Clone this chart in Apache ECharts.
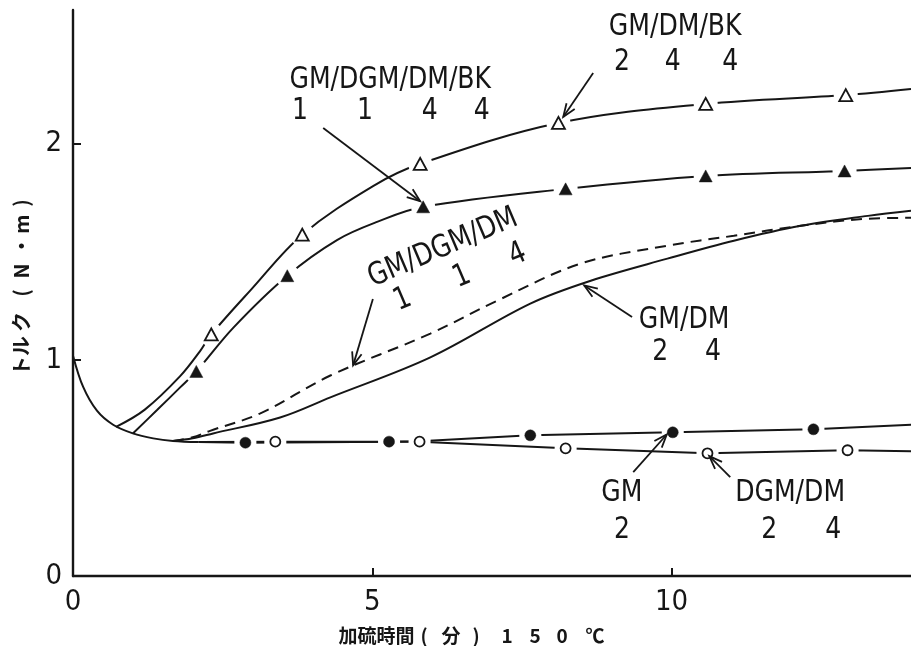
<!DOCTYPE html>
<html>
<head>
<meta charset="utf-8">
<script src="https://cdn.jsdelivr.net/npm/echarts@6/dist/echarts.min.js"></script>
<style>
  html, body { margin: 0; padding: 0; background: #fff; }
  #chart { width: 911px; height: 646px; }
</style>
</head>
<body>
<div id="chart"></div>
<script>
// Cure time (min, 150 °C) against torque (N·m)
const xTickLabels = [0, 5, 10];
const yTickLabels = [0, 1, 2];

// initial drop shared by every compound
const decay = [[0, 1.02], [0.17, 0.875], [0.4, 0.765], [0.67, 0.70], [1.0, 0.66], [1.34, 0.637], [1.67, 0.625], [2.1, 0.62]];

// GM/DM/BK 2/4/4 — open triangles
const bkOpenCurve = [[0.72, 0.69], [1.2, 0.77], [1.79, 0.925], [2.12, 1.04], [2.31, 1.118], [2.96, 1.321], [3.83, 1.58], [5.02, 1.806], [5.80, 1.908], [8.11, 2.097], [10.57, 2.185], [12.91, 2.226], [14, 2.254]];
const bkOpenMarks = [[2.31, 1.118], [3.83, 1.58], [5.80, 1.908], [8.11, 2.097], [10.57, 2.185], [12.91, 2.226]];

// GM/DGM/DM/BK 1/1/4/4 — filled triangles
const bkFilledCurve = [[1.0, 0.66], [1.40, 0.767], [1.79, 0.873], [2.06, 0.947], [2.68, 1.15], [3.58, 1.39], [4.41, 1.555], [5.08, 1.639], [5.85, 1.709], [8.23, 1.792], [10.57, 1.852], [12.89, 1.875], [14, 1.889]];
const bkFilledMarks = [[2.06, 0.947], [3.58, 1.39], [5.85, 1.709], [8.23, 1.792], [10.57, 1.852], [12.89, 1.875]];

// GM/DGM/DM 1/1/4 — dashed
const dgmDashed = [[1.67, 0.625], [2.0, 0.642], [2.29, 0.672], [3.13, 0.753], [4.30, 0.928], [5.97, 1.122], [7.09, 1.275], [8.48, 1.446], [9.93, 1.529], [11.04, 1.575], [12.16, 1.621], [13.28, 1.654], [14, 1.658]];

// GM/DM 2/4 — solid
const gmDmSolid = [[1.67, 0.625], [2.0, 0.638], [2.34, 0.66], [3.46, 0.734], [4.30, 0.827], [5.97, 1.012], [7.64, 1.261], [8.65, 1.367], [9.93, 1.469], [11.04, 1.552], [12.16, 1.621], [13.28, 1.667], [14, 1.691]];

// GM 2 — filled circles
const gmCurve = [[2.1, 0.62], [2.88, 0.617], [5.28, 0.622], [5.79, 0.624], [7.64, 0.651], [10.02, 0.665], [12.37, 0.679], [14, 0.70]];
const gmMarks = [[2.88, 0.617], [5.28, 0.622], [7.64, 0.651], [10.02, 0.665], [12.37, 0.679]];

// DGM/DM 2/4 — open circles
const dgmCurve = [[2.1, 0.62], [3.38, 0.622], [5.79, 0.622], [8.23, 0.591], [10.60, 0.568], [12.94, 0.582], [14, 0.577]];
const dgmMarks = [[3.38, 0.622], [5.79, 0.622], [8.23, 0.591], [10.60, 0.568], [12.94, 0.582]];

const INK = '#161616';
const LATIN = '"DejaVu Sans Condensed", "DejaVu Sans", sans-serif';
const CJK = '"Noto Sans CJK JP", sans-serif';

const chart = echarts.init(document.getElementById('chart'), null, { renderer: 'canvas' });

function curve(name, data, smooth, dashed) {
  return {
    name, type: 'line', data, z: 2, silent: true,
    smooth, showSymbol: false, symbol: 'none',
    lineStyle: { color: INK, width: 2, type: dashed ? [11, 7] : 'solid' }
  };
}

function marks(name, data, symbol, size, hollow) {
  return {
    name, type: 'scatter', data, z: 4, silent: true,
    symbol, symbolSize: size,
    itemStyle: hollow
      ? { color: '#fff', borderColor: INK, borderWidth: 1.8, opacity: 1 }
      : { color: INK, borderColor: INK, borderWidth: 0.5, opacity: 1 }
  };
}

// white breaks in the lines around each marker, turned along the line
function breaks(name, markData, len) {
  return {
    name, type: 'scatter', z: 3, silent: true, symbol: 'rect',
    symbolSize: [len, 7], itemStyle: { color: '#fff', opacity: 1 },
    data: markData.map(p => ({ value: p, symbolRotate: 0 }))
  };
}

const markerSets = [
  { curve: bkOpenCurve, marks: bkOpenMarks, symbol: 'triangle', size: [13, 12], hollow: true, gap: 24 },
  { curve: bkFilledCurve, marks: bkFilledMarks, symbol: 'triangle', size: [13, 12], hollow: false, gap: 24 },
  { curve: gmCurve, marks: gmMarks, symbol: 'circle', size: 11, hollow: false, gap: 22 },
  { curve: dgmCurve, marks: dgmMarks, symbol: 'circle', size: 10, hollow: true, gap: 22 }
];

const series = [
  curve('decay', decay, 0.35),
  curve('GM/DM/BK', bkOpenCurve, 0.35),
  curve('GM/DGM/DM/BK', bkFilledCurve, 0.35),
  curve('GM/DGM/DM', dgmDashed, 0.35, true),
  curve('GM/DM', gmDmSolid, 0.35),
  curve('GM', gmCurve, 0),
  curve('DGM/DM', dgmCurve, 0)
];
markerSets.forEach((m, i) => series.push(breaks('gap' + i, m.marks, m.gap)));
markerSets.forEach((m, i) => series.push(marks('mark' + i, m.marks, m.symbol, m.size, m.hollow)));

chart.setOption({
  animation: false,
  backgroundColor: '#fff',
  grid: { left: 73, right: 0, top: 10, bottom: 70 },
  xAxis: {
    type: 'value', min: 0, max: 14, interval: 5,
    axisLine: { lineStyle: { color: INK, width: 2.4 } },
    axisTick: { inside: true, length: 8, lineStyle: { color: INK, width: 2 }, customValues: [5, 10] },
    axisLabel: { customValues: xTickLabels, color: INK, fontSize: 29, fontFamily: LATIN, margin: 12 },
    splitLine: { show: false }
  },
  yAxis: {
    type: 'value', min: 0, max: 2.62, interval: 1,
    axisLine: { show: true, lineStyle: { color: INK, width: 2.4 } },
    axisTick: { show: true, inside: true, length: 8, lineStyle: { color: INK, width: 2 }, customValues: [1, 2] },
    axisLabel: { customValues: yTickLabels, color: INK, fontSize: 29, fontFamily: LATIN, margin: 11 },
    splitLine: { show: false }
  },
  series
});

// rotate the line breaks to follow the local slope
const toPx = p => chart.convertToPixel({ gridIndex: 0 }, p);
markerSets.forEach((m, i) => {
  series[7 + i].data = m.marks.map(p => {
    const k = m.curve.findIndex(q => q[0] === p[0]);
    const a = toPx(m.curve[Math.max(0, k - 1)]);
    const b = toPx(m.curve[Math.min(m.curve.length - 1, k + 1)]);
    const deg = Math.atan2(a[1] - b[1], b[0] - a[0]) * 180 / Math.PI;
    return { value: p, symbolRotate: deg };
  });
});

// callout texts and arrows, placed in data units
const callouts = [
  { text: 'GM/DM/BK', at: [10.06, 2.541] },
  { text: '2', at: [9.17, 2.379] }, { text: '4', at: [10.02, 2.379] }, { text: '4', at: [10.98, 2.379] },
  { text: 'GM/DGM/DM/BK', at: [5.30, 2.296] },
  { text: '1', at: [3.79, 2.152] }, { text: '1', at: [4.88, 2.152] }, { text: '4', at: [5.96, 2.152] }, { text: '4', at: [6.83, 2.152] },
  { text: 'GM/DGM/DM', at: [6.18, 1.518], rot: 23 },
  { text: '1', at: [5.51, 1.278], rot: 23 }, { text: '1', at: [6.50, 1.384], rot: 23 }, { text: '4', at: [7.43, 1.486], rot: 23 },
  { text: 'GM/DM', at: [10.21, 1.185] },
  { text: '2', at: [9.81, 1.037] }, { text: '4', at: [10.69, 1.037] },
  { text: 'GM', at: [9.17, 0.384] }, { text: '2', at: [9.17, 0.213] },
  { text: 'DGM/DM', at: [11.98, 0.384] },
  { text: '2', at: [11.63, 0.213] }, { text: '4', at: [12.70, 0.213] }
];
const arrows = [
  { from: [8.69, 2.328], to: [8.19, 2.125] },
  { from: [4.18, 2.074], to: [5.80, 1.735] },
  { from: [5.01, 1.282], to: [4.68, 0.975] },
  { from: [9.34, 1.199], to: [8.54, 1.345] },
  { from: [9.36, 0.481], to: [9.92, 0.655] },
  { from: [10.98, 0.458], to: [10.63, 0.555] }
];

const graphic = [];
callouts.forEach(c => {
  const p = toPx(c.at);
  graphic.push({
    type: 'text', x: p[0], y: p[1], z: 100, silent: true,
    rotation: (c.rot || 0) * Math.PI / 180, scaleX: 0.9,
    style: { text: c.text, fill: INK, fontSize: 31, fontFamily: LATIN, align: 'center', verticalAlign: 'middle' }
  });
});
arrows.forEach(a => {
  const t = toPx(a.from), h = toPx(a.to);
  const dx = h[0] - t[0], dy = h[1] - t[1], L = Math.hypot(dx, dy);
  const ux = dx / L, uy = dy / L, head = 14, spread = 0.36;
  const wing = s => [h[0] - head * (ux * Math.cos(s) - uy * Math.sin(s)), h[1] - head * (uy * Math.cos(s) + ux * Math.sin(s))];
  graphic.push({ type: 'line', z: 100, silent: true, shape: { x1: t[0], y1: t[1], x2: h[0], y2: h[1] }, style: { stroke: INK, lineWidth: 1.8 } });
  graphic.push({ type: 'polyline', z: 100, silent: true, shape: { points: [wing(spread), h, wing(-spread)] }, style: { stroke: INK, lineWidth: 1.8, fill: null } });
});

// axis titles
const yTitle = [['ト', 366], ['ル', 346], ['ク', 322], ['(', 293], ['N', 271], ['・', 246], ['m', 224], [')', 203]];
yTitle.forEach(([ch, y]) => graphic.push({
  type: 'text', x: 21, y, rotation: Math.PI / 2, z: 100, silent: true,
  style: { text: ch, fill: INK, fontSize: 20, fontWeight: 'bold', fontFamily: CJK, align: 'center', verticalAlign: 'middle' }
}));
const xTitle = [['加', 348], ['硫', 367], ['時', 386], ['間', 405], ['(', 424], ['分', 451], [')', 476], ['1', 507], ['5', 535], ['0', 562], ['℃', 595]];
xTitle.forEach(([ch, x]) => graphic.push({
  type: 'text', x, y: 636, z: 100, silent: true,
  style: { text: ch, fill: INK, fontSize: 19, fontWeight: 'bold', fontFamily: CJK, align: 'center', verticalAlign: 'middle' }
}));

chart.setOption({ series, graphic });
</script>
</body>
</html>
